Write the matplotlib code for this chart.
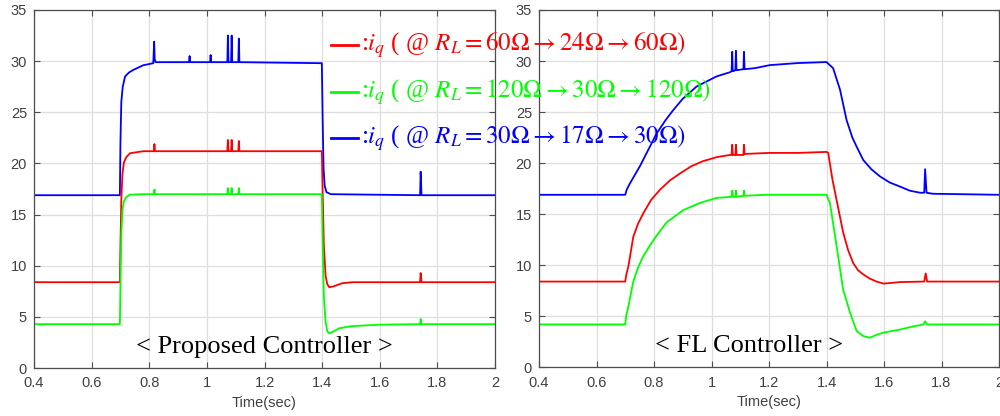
import numpy as np
import matplotlib
matplotlib.use("Agg")
import matplotlib.pyplot as plt
from matplotlib.lines import Line2D
from matplotlib.ticker import FormatStrFormatter

plt.rcParams["font.family"] = ["Liberation Sans", "DejaVu Sans"]
plt.rcParams["mathtext.fontset"] = "stix"

# ---- proposed controller (left) ----
t_blue_p = [0.4, 0.698, 0.700, 0.703, 0.708, 0.716, 0.730, 0.745, 0.779, 0.814, 0.817, 0.819, 0.822,
            0.938, 0.940, 0.942, 1.011, 1.013, 1.015, 1.071, 1.073, 1.075, 1.084, 1.086, 1.088,
            1.109, 1.111, 1.113, 1.399, 1.402, 1.405, 1.409, 1.415, 1.430, 1.740, 1.742, 1.745, 2.0]
blue_p = [16.9, 16.9, 22.0, 26.0, 27.5, 28.5, 28.9, 29.15, 29.6, 29.8, 31.9, 30.2, 29.9,
          29.9, 30.5, 29.9, 29.9, 30.6, 29.9, 29.9, 32.5, 29.9, 29.9, 32.5, 29.9,
          29.9, 32.2, 29.9, 29.8, 24.0, 19.5, 17.8, 17.2, 17.0, 16.9, 19.2, 16.9, 16.9]

t_red_p = [0.4, 0.698, 0.700, 0.703, 0.707, 0.712, 0.720, 0.733, 0.779, 0.816, 0.818, 0.820,
           1.071, 1.073, 1.075, 1.084, 1.086, 1.088, 1.109, 1.111, 1.113,
           1.399, 1.402, 1.406, 1.412, 1.418, 1.425, 1.440, 1.470, 1.505, 1.740, 1.742, 1.745, 2.0]
red_p = [8.4, 8.4, 12.0, 16.5, 19.0, 20.1, 20.6, 21.0, 21.2, 21.2, 21.9, 21.2,
         21.2, 22.3, 21.2, 21.2, 22.3, 21.2, 21.2, 22.2, 21.2,
         21.2, 17.0, 12.0, 9.0, 8.2, 7.9, 8.0, 8.3, 8.4, 8.4, 9.3, 8.4, 8.4]

t_green_p = [0.4, 0.698, 0.700, 0.703, 0.707, 0.712, 0.720, 0.733, 0.780, 0.816, 0.818, 0.820,
             1.071, 1.073, 1.075, 1.084, 1.086, 1.088, 1.109, 1.111, 1.113,
             1.399, 1.402, 1.406, 1.412, 1.418, 1.425, 1.440, 1.460, 1.500, 1.600, 1.740, 1.742, 1.745, 2.0]
green_p = [4.3, 4.3, 8.0, 13.0, 15.5, 16.3, 16.7, 16.95, 17.0, 17.0, 17.45, 17.0,
           17.0, 17.6, 17.0, 17.0, 17.6, 17.0, 17.0, 17.6, 17.0,
           17.0, 12.0, 7.0, 4.5, 3.6, 3.4, 3.6, 3.9, 4.1, 4.25, 4.3, 4.8, 4.3, 4.3]

# ---- FL controller (right) ----
t_blue_f = [0.4, 0.700, 0.705, 0.717, 0.751, 0.780, 0.809, 0.840, 0.867, 0.900, 0.948, 1.018, 1.064,
            1.070, 1.072, 1.074, 1.083, 1.085, 1.087, 1.111, 1.113, 1.115, 1.150, 1.203, 1.300, 1.400,
            1.423, 1.447, 1.470, 1.490, 1.505, 1.528, 1.556, 1.586, 1.620, 1.656, 1.690, 1.726,
            1.740, 1.743, 1.748, 1.770, 2.0]
blue_f = [16.9, 16.9, 17.4, 18.05, 19.7, 21.3, 22.9, 24.2, 25.2, 26.3, 27.5, 28.5, 28.9,
          29.0, 30.9, 29.0, 29.1, 31.0, 29.1, 29.2, 30.9, 29.2, 29.3, 29.6, 29.8, 29.9,
          29.3, 27.2, 24.2, 22.5, 21.6, 20.3, 19.4, 18.7, 18.1, 17.7, 17.3, 17.1,
          17.1, 19.4, 17.1, 17.0, 16.9]

t_red_f = [0.4, 0.700, 0.703, 0.711, 0.728, 0.745, 0.763, 0.790, 0.821, 0.855, 0.891, 0.930, 0.971,
           1.020, 1.064, 1.070, 1.072, 1.074, 1.083, 1.085, 1.087, 1.111, 1.113, 1.115,
           1.200, 1.300, 1.400, 1.406, 1.420, 1.435, 1.458, 1.475, 1.493, 1.510, 1.528, 1.550,
           1.574, 1.598, 1.656, 1.740, 1.745, 1.750, 2.0]
red_f = [8.4, 8.4, 9.0, 9.9, 12.8, 14.1, 15.1, 16.4, 17.4, 18.3, 19.0, 19.7, 20.2,
         20.6, 20.8, 20.8, 21.8, 20.8, 20.8, 21.8, 20.8, 20.8, 21.8, 20.9,
         21.0, 21.0, 21.1, 21.0, 18.5, 16.4, 13.2, 11.5, 10.2, 9.5, 9.1, 8.7,
         8.4, 8.2, 8.35, 8.4, 9.2, 8.4, 8.4]

t_green_f = [0.4, 0.700, 0.703, 0.711, 0.728, 0.745, 0.763, 0.785, 0.809, 0.844, 0.902, 0.960,
             1.018, 1.070, 1.072, 1.074, 1.083, 1.085, 1.087, 1.111, 1.113, 1.115,
             1.190, 1.400, 1.412, 1.435, 1.458, 1.482, 1.505, 1.528, 1.551, 1.575, 1.598,
             1.656, 1.700, 1.737, 1.743, 1.750, 2.0]
green_f = [4.2, 4.2, 5.0, 6.0, 8.4, 9.8, 10.9, 11.9, 12.9, 14.2, 15.4, 16.1,
           16.6, 16.7, 17.3, 16.7, 16.7, 17.3, 16.7, 16.8, 17.3, 16.8,
           16.9, 16.9, 16.1, 11.9, 7.6, 5.35, 3.55, 3.06, 2.9, 3.2, 3.4,
           3.7, 4.0, 4.2, 4.5, 4.2, 4.2]

legend_labels = [
    r":$i_q$ ( @ $R_L=60\Omega\rightarrow24\Omega\rightarrow60\Omega)$",
    r":$i_q$ ( @ $R_L=120\Omega\rightarrow30\Omega\rightarrow120\Omega)$",
    r":$i_q$ ( @ $R_L=30\Omega\rightarrow17\Omega\rightarrow30\Omega)$",
]
panel_titles = ["< Proposed Controller >", "< FL Controller >"]

RED, GREEN, BLUE = "#ff0000", "#00ff00", "#0000ff"
AXC = "#4d4d4d"
TXC = "#404040"
SERIF = ["Liberation Serif", "DejaVu Serif"]


def style_axes(ax):
    ax.set_xlim(0.4, 2.0)
    ax.set_ylim(0, 35)
    ax.set_xticks(np.arange(0.4, 2.01, 0.2))
    ax.set_yticks(np.arange(0, 36, 5))
    ax.xaxis.set_major_formatter(FormatStrFormatter("%g"))
    ax.grid(True, color="#dedede", linewidth=0.9)
    ax.set_axisbelow(True)
    ax.tick_params(direction="in", top=True, right=True, length=4, width=0.8,
                   color=AXC, labelcolor=TXC, labelsize=10.5)
    ax.tick_params(axis="x", pad=6)
    ax.tick_params(axis="y", pad=5)
    for sp in ax.spines.values():
        sp.set_color(AXC)
        sp.set_linewidth(0.9)
    ax.set_xlabel("Time(sec)", color=TXC, fontsize=10.5, labelpad=4)


fig = plt.figure(figsize=(10, 4.16), dpi=100)
ax_l = fig.add_axes([0.034, 0.115, 0.461, 0.861])
ax_r = fig.add_axes([0.539, 0.117, 0.460, 0.859])

lw = 1.3
ax_l.plot(t_blue_p, blue_p, color=BLUE, lw=lw)
ax_l.plot(t_red_p, red_p, color=RED, lw=lw)
ax_l.plot(t_green_p, green_p, color=GREEN, lw=lw)

ax_r.plot(t_blue_f, blue_f, color=BLUE, lw=lw)
ax_r.plot(t_red_f, red_f, color=RED, lw=lw)
ax_r.plot(t_green_f, green_f, color=GREEN, lw=lw)

for ax in (ax_l, ax_r):
    style_axes(ax)

ax_l.text(0.5, 0.06, panel_titles[0], transform=ax_l.transAxes, ha="center", va="center",
          fontsize=19, family=SERIF, color="black")
ax_r.text(0.457, 0.06, panel_titles[1], transform=ax_r.transAxes, ha="center", va="center",
          fontsize=19, family=SERIF, color="black")

# custom legend drawn in figure coords
legend_colors = [RED, GREEN, BLUE]
legend_y = [0.892, 0.779, 0.668]
for lab, col, yy in zip(legend_labels, legend_colors, legend_y):
    fig.add_artist(Line2D([0.331, 0.358], [yy, yy], color=col, lw=2.0,
                          transform=fig.transFigure))
    fig.text(0.361, yy, lab, color=col, fontsize=18, ha="left", va="center", family=SERIF)

fig.savefig("out.png", dpi=100)
